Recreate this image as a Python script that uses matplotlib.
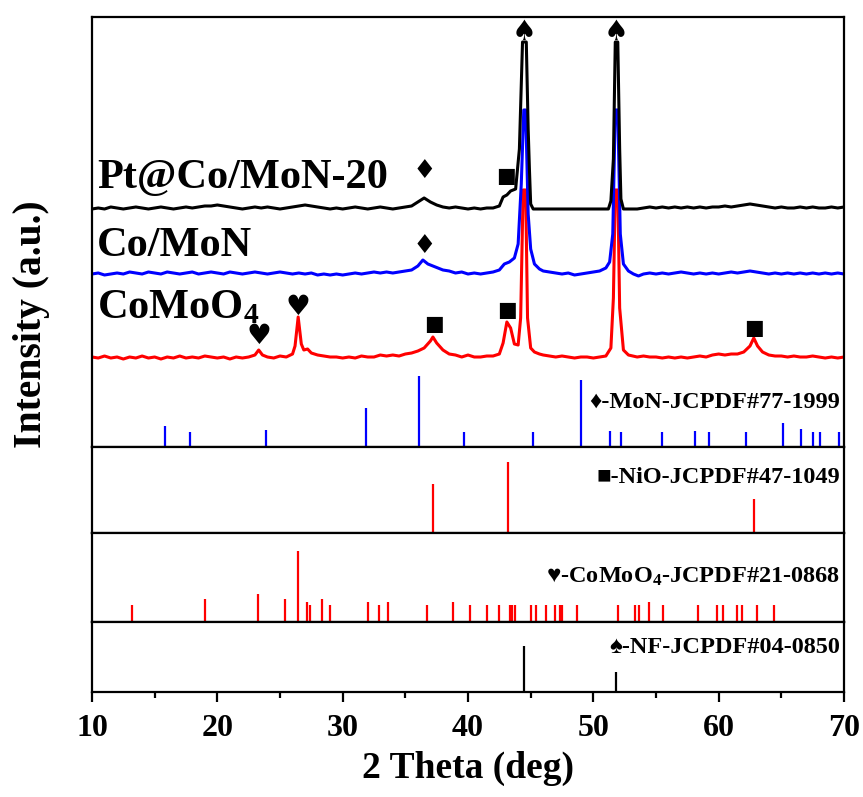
import matplotlib
matplotlib.use("Agg")
import matplotlib.pyplot as plt
import numpy as np

plt.rcParams['font.family'] = ['Liberation Serif', 'DejaVu Sans']
plt.rcParams['font.weight'] = 'bold'
plt.rcParams['mathtext.fontset'] = 'custom'
plt.rcParams['mathtext.bf'] = 'Liberation Serif:bold'
plt.rcParams['mathtext.rm'] = 'Liberation Serif:bold'
plt.rcParams['mathtext.default'] = 'bf'

# measured XRD curves (2theta, intensity above own baseline, a.u.)
como_tt = [10, 10.5, 11, 11.5, 12, 12.5, 13, 13.5, 14, 14.5, 15, 15.5, 16, 16.5, 17, 17.5, 18, 18.5, 19, 19.5,
           20, 20.5, 21, 21.5, 22, 22.5, 23.0, 23.3, 23.6, 24, 24.5, 25, 25.5, 26, 26.2, 26.45, 26.7, 26.9, 27.2, 27.5,
           28, 28.5, 29, 29.5, 30, 30.5, 31, 31.5, 32, 32.5, 33, 33.5, 34, 34.5, 35, 35.5, 36, 36.5, 37, 37.2,
           37.5, 38, 38.5, 39, 39.5, 40, 40.5, 41, 41.5, 42, 42.5, 42.8, 43.1, 43.4, 43.7, 44.0, 44.2, 44.4, 44.6, 44.75,
           45, 45.3, 45.7, 46, 46.5, 47, 47.5, 48, 48.5, 49, 49.5, 50, 50.5, 51, 51.4, 51.6, 51.75, 51.95, 52.1, 52.4,
           52.8, 53.5, 54, 54.5, 55, 55.5, 56, 56.5, 57, 57.5, 58, 58.5, 59, 59.5, 60, 60.5, 61, 61.5, 62, 62.5,
           62.8, 63.1, 63.5, 64, 64.5, 65, 65.5, 66, 66.5, 67, 67.5, 68, 68.5, 69, 69.5, 70]
como_int = [1, 0, 2, 0, 1, -1, 1, 0, 2, 0, 1, -1, 1, 0, 2, 0, 1, 0, 2, 1,
            0, 1, -1, 1, 0, 1, 3, 8, 3, 1, 0, 2, 1, 4, 12, 41, 14, 8, 9, 5,
            3, 2, 1, 1, 0, 1, 0, 2, 1, 1, 3, 2, 3, 2, 4, 5, 7, 10, 17, 21,
            15, 8, 4, 3, 1, 3, 1, 1, 2, 2, 4, 15, 36, 30, 14, 13, 40, 168, 168, 40,
            10, 6, 4, 3, 2, 1, 2, 1, 0, 1, 1, 0, 1, 2, 10, 60, 168, 168, 50, 8,
            3, 1, 2, 1, 1, 0, 1, 0, 1, 0, 1, 2, 1, 3, 4, 3, 4, 4, 6, 12,
            20, 12, 6, 3, 2, 2, 1, 2, 1, 1, 2, 1, 0, 1, 0, 1]

con_tt = [10, 10.5, 11, 11.5, 12, 12.5, 13, 13.5, 14, 14.5, 15, 15.5, 16, 16.5, 17, 17.5, 18, 18.5, 19, 19.5,
          20, 20.5, 21, 21.5, 22, 22.5, 23, 23.5, 24, 24.5, 25, 25.5, 26, 26.5, 27, 27.5, 28, 28.5, 29, 29.5,
          30, 30.5, 31, 31.5, 32, 32.5, 33, 33.5, 34, 34.5, 35, 35.5, 36, 36.4, 36.8, 37.2, 37.6, 38, 38.5, 39,
          39.5, 40, 40.5, 41, 41.5, 42, 42.5, 42.9, 43.3, 43.7, 44.0, 44.25, 44.45, 44.6, 44.8, 45.0, 45.3, 45.7, 46, 46.5,
          47, 47.5, 48, 48.5, 49, 49.5, 50, 50.5, 51, 51.3, 51.55, 51.75, 51.95, 52.15, 52.4, 52.8, 53.2, 53.6, 54, 54.5,
          55, 55.5, 56, 56.5, 57, 57.5, 58, 58.5, 59, 59.5, 60, 60.5, 61, 61.5, 62, 62.5, 63, 63.5, 64, 64.5,
          65, 65.5, 66, 66.5, 67, 67.5, 68, 68.5, 69, 69.5, 70]
con_int = [0, 1, -1, 0, 1, 0, 2, 1, 0, 2, 1, 0, 2, 1, 0, 1, 2, 0, 1, 2,
           1, 0, 2, 1, 0, 1, 2, 1, 0, 1, 2, 1, 0, 1, 0, 1, -1, 0, -1, 0,
           -1, 0, 1, 0, 1, 2, 1, 2, 1, 2, 3, 4, 8, 14, 10, 8, 6, 4, 3, 1,
           2, 0, 1, 0, 1, 2, 4, 10, 12, 16, 30, 90, 164, 164, 60, 25, 10, 5, 3, 2,
           1, 0, 1, -1, 0, 1, 2, 3, 6, 12, 40, 164, 164, 40, 10, 3, 0, -2, 0, 1,
           0, 1, 0, 1, 2, 1, 0, 1, 0, 1, 0, 1, 2, 1, 2, 3, 2, 1, 0, 1,
           0, 1, 0, 1, 0, 1, 0, 1, 0, 1, 0]

pt_tt = [10, 10.5, 11, 11.5, 12, 12.5, 13, 13.5, 14, 14.5, 15, 15.5, 16, 16.5, 17, 17.5, 18, 18.5, 19, 19.5,
         20, 20.5, 21, 21.5, 22, 22.5, 23, 23.5, 24, 24.5, 25, 25.5, 26, 26.5, 27, 27.5, 28, 28.5, 29, 29.5,
         30, 30.5, 31, 31.5, 32, 32.5, 33, 33.5, 34, 34.5, 35, 35.5, 36, 36.5, 37, 37.5, 38, 38.5, 39, 39.5,
         40, 40.5, 41, 41.5, 42, 42.5, 42.8, 43.1, 43.4, 43.8, 44.1, 44.35, 44.65, 44.8, 44.9, 45.0, 45.2, 51.2, 51.4, 51.6,
         51.75, 51.95, 52.1, 52.2, 52.4, 53.5, 54, 54.5, 55, 55.5, 56, 56.5, 57, 57.5, 58, 58.5, 59, 59.5, 60, 60.5,
         61, 61.5, 62, 62.5, 63, 63.5, 64, 64.5, 65, 65.5, 66, 66.5, 67, 67.5, 68, 68.5, 69, 69.5, 70]
pt_int = [0, 1, 0, 2, 1, 0, 1, 2, 1, 0, 1, 2, 1, 0, 1, 2, 1, 2, 3, 3,
          4, 3, 2, 1, 0, 1, 2, 1, 2, 1, 0, 1, 2, 3, 4, 3, 2, 1, 0, 1,
          0, 1, 2, 1, 0, 1, 2, 1, 0, 1, 2, 3, 7, 11, 7, 4, 2, 1, 2, 1,
          0, 1, 0, 1, 1, 3, 12, 14, 18, 20, 60, 167, 167, 80, 40, 5, 0, 0, 8, 50,
          167, 167, 60, 10, 0, 0, 1, 2, 1, 2, 1, 2, 1, 2, 1, 2, 1, 2, 2, 3,
          2, 3, 4, 5, 4, 3, 2, 1, 2, 1, 1, 2, 1, 2, 1, 1, 2, 1, 2]

# reference patterns (2theta, relative intensity %)
mon_pos = [15.8, 17.8, 23.9, 31.9, 36.1, 39.7, 45.2, 49.0, 51.3, 52.2, 55.5, 58.1, 59.2, 62.2, 65.1, 66.6, 67.5, 68.1, 69.6]
mon_int = [29, 21, 24, 55, 100, 21, 21, 94, 23, 21, 21, 22, 21, 21, 34, 25, 21, 21, 21]
nio_pos = [37.2, 43.2, 62.8]
nio_int = [69, 100, 48]
como_pos = [13.16, 19.0, 23.27, 25.42, 26.41, 27.16, 27.43, 28.35, 29.02, 32.0, 32.87, 33.62, 36.72, 38.81,
            40.12, 41.55, 42.46, 43.37, 43.53, 43.77, 45.04, 45.39, 46.23, 46.98, 47.3, 47.5, 48.73, 51.98,
            53.32, 53.68, 54.47, 55.55, 58.32, 59.9, 60.34, 61.49, 61.85, 63.04, 64.42]
como_rel = [24, 33, 40, 33, 100, 28, 24, 33, 24, 28, 24, 28, 24, 28,
            24, 24, 24, 24, 24, 24, 24, 24, 24, 24, 24, 24, 24, 24,
            24, 24, 28, 24, 24, 24, 24, 24, 24, 24, 24]
nf_pos = [44.45, 51.8]
nf_int = [100, 43]

fig = plt.figure(figsize=(8.63, 7.97), dpi=100)
gs = fig.add_gridspec(4, 1, height_ratios=[430, 86, 89, 70], hspace=0,
                      left=0.1066, right=0.978, top=0.9787, bottom=0.1317)
axes = [fig.add_subplot(gs[i]) for i in range(4)]

ax = axes[0]
ax.plot(como_tt, np.array(como_int) + 89, color='red', lw=2.2)
ax.plot(con_tt, np.array(con_int) + 173, color='blue', lw=2.2)
ax.plot(pt_tt, np.array(pt_int) + 238, color='black', lw=2.2)
ax.vlines(mon_pos, 0, np.array(mon_int) * 0.71, color='blue', lw=1.6)
ax.set_ylim(0, 430)

sym = dict(ha='center', va='center', color='black', family=['DejaVu Sans'])
ax.text(44.5, 415, '♠', fontsize=20, **sym)
ax.text(51.8, 415, '♠', fontsize=20, **sym)
ax.text(36.5, 276, '♦', fontsize=19, **sym)
ax.text(43.0, 271, '■', fontsize=15, **sym)
ax.text(36.5, 201, '♦', fontsize=19, **sym)
ax.text(23.3, 111, '♥', fontsize=20, **sym)
ax.text(26.45, 140, '♥', fontsize=20, **sym)
ax.text(37.3, 123, '■', fontsize=15, **sym)
ax.text(43.1, 137, '■', fontsize=15, **sym)
ax.text(62.8, 119, '■', fontsize=15, **sym)

ax.text(0.007, 0.602, 'Pt@Co/MoN-20', transform=ax.transAxes, fontsize=30.5, va='baseline')
ax.text(0.007, 0.444, 'Co/MoN', transform=ax.transAxes, fontsize=30.5, va='baseline')
ax.text(0.007, 0.300, 'CoMoO$_4$', transform=ax.transAxes, fontsize=30.5, va='baseline')
ax.text(0.995, 0.091, '♦-MoN-JCPDF#77-1999', transform=ax.transAxes, fontsize=17.5, ha='right', va='baseline')

axes[1].vlines(nio_pos, 0, nio_int, color='red', lw=1.6)
axes[1].set_ylim(0, 121)
axes[1].text(0.995, 0.581, '■-NiO-JCPDF#47-1049', transform=axes[1].transAxes, fontsize=17.5, ha='right', va='baseline')

axes[2].vlines(como_pos, 0, como_rel, color='red', lw=1.6)
axes[2].set_ylim(0, 125)
axes[2].text(0.995, 0.438, '♥-CoMoO$_4$-JCPDF#21-0868', transform=axes[2].transAxes, fontsize=17.5, ha='right', va='baseline')

axes[3].vlines(nf_pos, 0, nf_int, color='black', lw=1.6)
axes[3].set_ylim(0, 152)
axes[3].text(0.995, 0.557, '♠-NF-JCPDF#04-0850', transform=axes[3].transAxes, fontsize=17.5, ha='right', va='baseline')

for a in axes:
    a.set_xlim(10, 70)
    a.set_yticks([])
    for s in a.spines.values():
        s.set_linewidth(1.6)
    if a is not axes[3]:
        a.set_xticks([])

axes[3].set_xticks([10, 20, 30, 40, 50, 60, 70])
axes[3].set_xticks([15, 25, 35, 45, 55, 65], minor=True)
axes[3].tick_params(axis='x', which='major', length=7.5, width=1.6, labelsize=23, direction='out', pad=8)
axes[3].tick_params(axis='x', which='minor', length=4.5, width=1.6, direction='out')
for lab in axes[3].get_xticklabels():
    lab.set_fontweight('bold')
axes[3].set_xlabel('2 Theta (deg)', fontsize=27, fontweight='bold', labelpad=6)

fig.text(0.036, 1 - 324 / 797, 'Intensity (a.u.)', rotation=90, fontsize=28.5, fontweight='bold',
         ha='center', va='center')

fig.savefig('out.png', dpi=100)
